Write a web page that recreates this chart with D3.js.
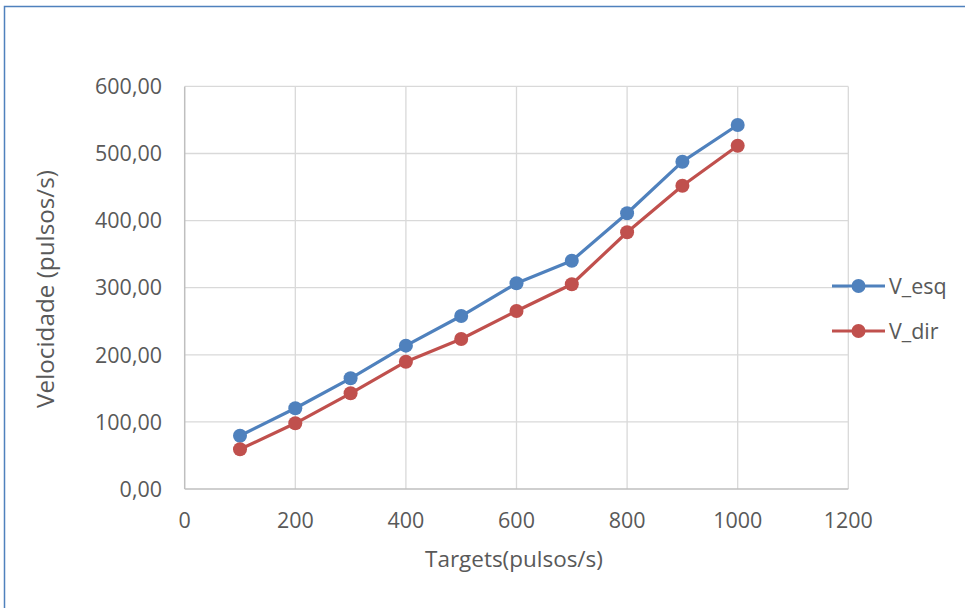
<!DOCTYPE html>
<html><head><meta charset="utf-8">
<script src="https://cdn.jsdelivr.net/npm/d3@7/dist/d3.min.js"></script>
<style>body{margin:0;background:#fff}svg{display:block}text{font-family:"Open Sans","Noto Sans",sans-serif;fill:#595959}</style>
</head><body>
<script>
const targets = [100,200,300,400,500,600,700,800,900,1000];
const vEsq = [79.4,120.3,165.0,213.6,257.8,306.6,340.2,410.9,487.8,542.5];
const vDir = [59.2,97.9,142.6,189.7,223.5,265.3,305.1,382.6,452.0,511.6];
const seriesNames = ["V_esq","V_dir"];
const seriesColors = ["#4f81bd","#c0504d"];
const xTicks = [0,200,400,600,800,1000,1200];
const yTicks = [0,100,200,300,400,500,600];

const W=965,H=608;
const svg=d3.select("body").append("svg").attr("width",W).attr("height",H);
svg.append("rect").attr("width",W).attr("height",H).attr("fill","#fff");
svg.append("path").attr("d",`M4.5,${H} L4.5,6.5 L${W},6.5`).attr("fill","none").attr("stroke","#4f81bd").attr("stroke-width",1.5);

const x=d3.scaleLinear().domain([0,1200]).range([184.7,848.3]);
const y=d3.scaleLinear().domain([0,600]).range([489,86.4]);

function fit(sel,target){ // scale font so text width matches target
  const n=sel.node(); const fs=+sel.attr("font-size"); const w=n.getComputedTextLength();
  if(w>0) sel.attr("font-size",fs*target/w);
}

const g=svg.append("g");
g.selectAll(".vg").data(xTicks.slice(1)).join("line").attr("x1",d=>x(d)).attr("x2",d=>x(d)).attr("y1",y(600)).attr("y2",y(0)).attr("stroke","#d9d9d9").attr("stroke-width",1.3);
g.selectAll(".hg").data(yTicks.slice(1)).join("line").attr("x1",x(0)).attr("x2",x(1200)).attr("y1",d=>y(d)).attr("y2",d=>y(d)).attr("stroke","#d9d9d9").attr("stroke-width",1.3);
g.append("line").attr("x1",x(0)).attr("x2",x(0)).attr("y1",y(600)).attr("y2",y(0)).attr("stroke","#bfbfbf").attr("stroke-width",1.5);
g.append("line").attr("x1",x(0)).attr("x2",x(1200)).attr("y1",y(0)).attr("y2",y(0)).attr("stroke","#bfbfbf").attr("stroke-width",1.5);

const fmt=d=>d3.format(".2f")(d).replace(".",",");
const probe=svg.append("text").attr("font-size",20).text("600,00");
fit(probe,67); const tickFs=+probe.attr("font-size"); probe.remove();

g.selectAll(".yl").data(yTicks).join("text").attr("x",162).attr("y",d=>y(d)).attr("dy","0.36em").attr("text-anchor","end").attr("font-size",tickFs).text(fmt);
g.selectAll(".xl").data(xTicks).join("text").attr("x",d=>x(d)).attr("y",520).attr("dy","0.36em").attr("text-anchor","middle").attr("font-size",tickFs).text(d=>d);

const yt=svg.append("text").attr("transform","translate(45,289) rotate(-90)").attr("text-anchor","middle").attr("dy","0.36em").attr("font-size",20).text("Velocidade (pulsos/s)");
fit(yt,238);
const xt=svg.append("text").attr("x",514).attr("y",559).attr("dy","0.36em").attr("text-anchor","middle").attr("font-size",20).text("Targets(pulsos/s)");
fit(xt,178);

const data=[vEsq,vDir];
const line=d3.line().x((d,i)=>x(targets[i])).y(d=>y(d));
data.forEach((vals,k)=>{
  g.append("path").datum(vals).attr("d",line).attr("fill","none").attr("stroke",seriesColors[k]).attr("stroke-width",3.2).attr("stroke-linejoin","round");
  g.selectAll(".p"+k).data(vals).join("circle").attr("cx",(d,i)=>x(targets[i])).attr("cy",d=>y(d)).attr("r",7).attr("fill",seriesColors[k]);
});

const leg=svg.append("g");
seriesNames.forEach((n,k)=>{
  const ly=286+k*45;
  leg.append("line").attr("x1",832).attr("x2",885).attr("y1",ly).attr("y2",ly).attr("stroke",seriesColors[k]).attr("stroke-width",3.2);
  leg.append("circle").attr("cx",858.5).attr("cy",ly).attr("r",7).attr("fill",seriesColors[k]);
  leg.append("text").attr("x",889).attr("y",ly).attr("dy","0.36em").attr("font-size",tickFs).text(n);
});
</script>
</body></html>
